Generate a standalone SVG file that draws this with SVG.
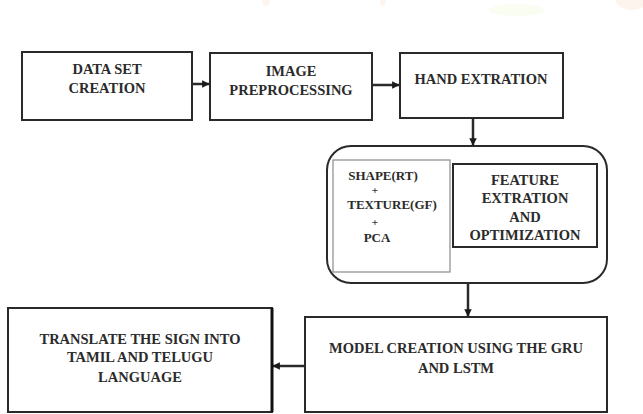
<svg xmlns="http://www.w3.org/2000/svg" width="643" height="414" viewBox="0 0 643 414">
<defs>
<style>
.box{fill:#fff;stroke:#2a2a2a;stroke-width:2}
.thin{fill:#fff;stroke:#8a8a8a;stroke-width:1.2}
text{font-family:'Liberation Serif','DejaVu Serif',serif;font-weight:bold;font-size:14.5px;fill:#2b2b2b;text-anchor:middle}
.s{font-size:13px}
.p{font-size:11px}
.c{fill:none;stroke:#2a2a2a;stroke-width:2.5}
</style>
<marker id="ah" viewBox="0 0 6 6" refX="5.5" refY="3" markerWidth="3" markerHeight="3" orient="auto" markerUnits="strokeWidth">
<path d="M0,0 L6,3 L0,6 Z" fill="#1a1a1a"/>
</marker>
</defs>
<rect width="643" height="414" fill="#fff"/>
<g id="watermark" opacity="0.25">
<ellipse cx="266" cy="0" rx="4" ry="6" fill="#fbd6bd"/>
<ellipse cx="383" cy="0" rx="3" ry="6" fill="#fbd6bd"/>
<ellipse cx="517" cy="10" rx="28" ry="6" fill="#eef8c8"/>
<ellipse cx="632" cy="0" rx="16" ry="10" fill="#fbd6bd"/>
</g>
<g id="connectors">
<line class="c" x1="192" y1="84" x2="209" y2="84" marker-end="url(#ah)"/>
<line class="c" x1="372" y1="85" x2="399" y2="85" marker-end="url(#ah)"/>
<line class="c" x1="473" y1="119" x2="473" y2="145" marker-end="url(#ah)"/>
<line class="c" x1="468" y1="284" x2="468" y2="316" marker-end="url(#ah)"/>
<line class="c" x1="305" y1="366" x2="273" y2="366" marker-end="url(#ah)"/>
</g>
<g id="data-set-creation">
<rect class="box" x="22" y="52" width="170" height="68"/>
<text x="107" y="74">DATA SET</text>
<text x="107" y="93">CREATION</text>
</g>
<g id="image-preprocessing">
<rect class="box" x="210" y="53" width="162" height="67"/>
<text x="291" y="76">IMAGE</text>
<text x="291" y="95">PREPROCESSING</text>
</g>
<g id="hand-extration">
<rect class="box" x="400" y="53" width="163" height="65"/>
<text x="481" y="84">HAND EXTRATION</text>
</g>
<g id="feature-group">
<rect class="box" x="327" y="146" width="280" height="137" rx="24" ry="24"/>
<g id="shape-texture-pca">
<rect class="thin" x="333" y="160" width="117" height="112"/>
<text class="s" x="383" y="180">SHAPE(RT)</text>
<text class="p" x="375" y="194">+</text>
<text class="s" x="392" y="209">TEXTURE(GF)</text>
<text class="p" x="375" y="226">+</text>
<text class="s" x="377" y="242">PCA</text>
</g>
<g id="feature-extration">
<rect class="box" x="453" y="164" width="144" height="83"/>
<text x="525" y="185">FEATURE</text>
<text x="525" y="203">EXTRATION</text>
<text x="525" y="222">AND</text>
<text x="525" y="240">OPTIMIZATION</text>
</g>
</g>
<g id="model-creation">
<rect class="box" x="305" y="317" width="302" height="95"/>
<text x="456" y="353">MODEL CREATION USING THE GRU</text>
<text x="456" y="373">AND LSTM</text>
</g>
<g id="translate">
<rect class="box" x="8" y="308" width="264" height="104"/>
<line x1="272" y1="308" x2="272" y2="412" stroke="#111" stroke-width="3"/>
<text x="140" y="344">TRANSLATE THE SIGN INTO</text>
<text x="140" y="362">TAMIL AND TELUGU</text>
<text x="140" y="382">LANGUAGE</text>
</g>
</svg>
